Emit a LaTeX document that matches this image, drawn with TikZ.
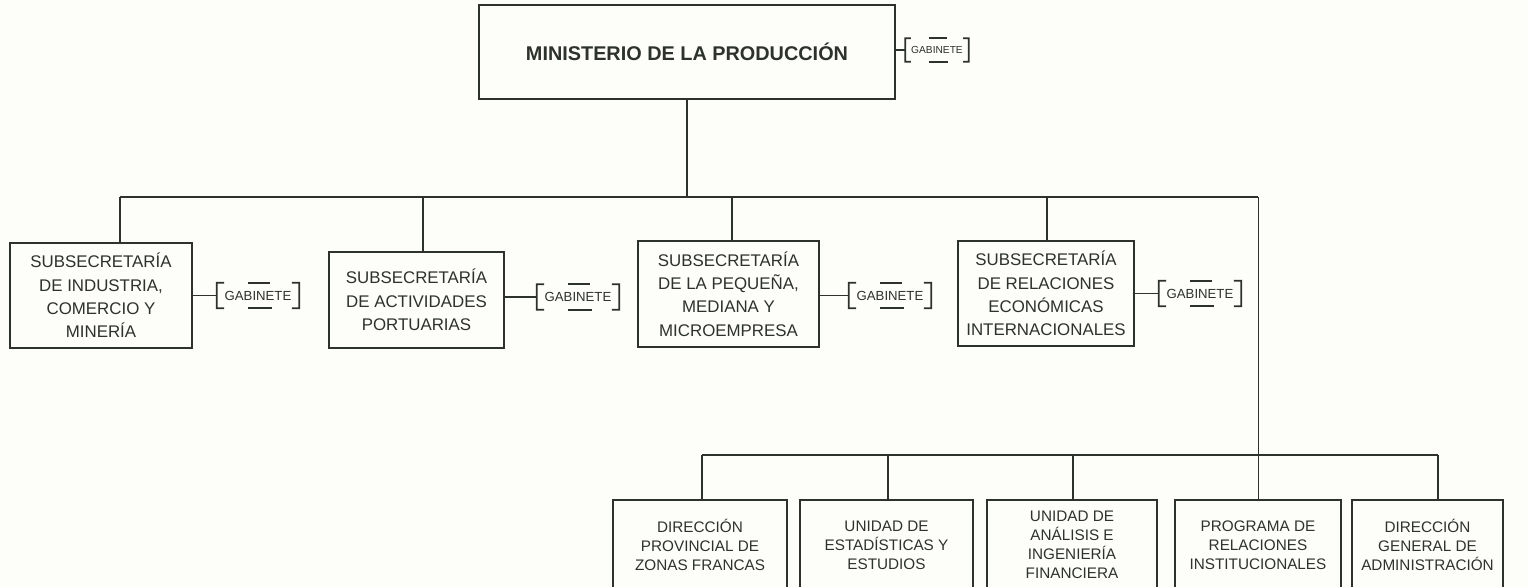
\documentclass[tikz,border=0pt]{standalone}
\usepackage{fontspec}
\setmainfont{Liberation Sans}
\usetikzlibrary{calc}
\definecolor{ink}{RGB}{45, 50, 45}
\definecolor{paper}{RGB}{253, 253, 250}

\begin{document}
\begin{tikzpicture}[x=0.02cm, y=-0.02cm,
    box/.style={rectangle, draw=ink, line width=1.1pt, align=center, text=ink, inner sep=1pt, font=\fontsize{9.6}{13.3}\selectfont},
    unit/.style={rectangle, draw=ink, line width=1.1pt, align=center, text=ink, inner sep=1pt, minimum height=1.8cm, font=\fontsize{8.7}{10.8}\selectfont},
    gab/.style={rectangle, inner sep=0pt, minimum width=1.64cm, minimum height=0.5cm, text=ink, font=\fontsize{7.5}{9}\selectfont},
    brk/.style={draw=ink, line width=1pt},
    conn/.style={draw=ink, line width=0.7pt}
]
\useasboundingbox (0,0) rectangle (1528,587);
\clip (0,0) rectangle (1528,587);
\fill[paper] (0,0) rectangle (1528,587);

% Ministry at top
\node[box, line width=0.9pt, minimum width=8.32cm, minimum height=1.88cm, font=\fontsize{11.3}{13}\selectfont\bfseries] (min) at (687,52) {MINISTERIO DE LA PRODUCCIÓN};
\node[gab, minimum width=1.26cm, minimum height=0.46cm, font=\fontsize{5.8}{7}\selectfont] (g0) at (937,50) {GABINETE};

% Subsecretarias
\node[box, minimum width=3.64cm, minimum height=2.1cm] (s1) at (101,295.5) {SUBSECRETARÍA\\DE INDUSTRIA,\\COMERCIO Y\\MINERÍA};
\node[box, minimum width=3.5cm, minimum height=1.92cm] (s2) at (416.5,300) {SUBSECRETARÍA\\DE ACTIVIDADES\\PORTUARIAS};
\node[box, minimum width=3.62cm, minimum height=2.12cm] (s3) at (728.5,294) {SUBSECRETARÍA\\DE LA PEQUEÑA,\\MEDIANA Y\\MICROEMPRESA};
\node[box, minimum width=3.52cm, minimum height=2.1cm] (s4) at (1046,293.5) {SUBSECRETARÍA\\DE RELACIONES\\ECONÓMICAS\\INTERNACIONALES};

% Gabinetes beside them
\node[gab] (g1) at (258,295.5) {GABINETE};
\node[gab] (g2) at (578,297) {GABINETE};
\node[gab] (g3) at (890,295.5) {GABINETE};
\node[gab] (g4) at (1200,293.5) {GABINETE};

% Units at the bottom
\node[unit, minimum width=3.48cm] (u1) at (700,545) {DIRECCIÓN\\PROVINCIAL DE\\ZONAS FRANCAS};
\node[unit, minimum width=3.46cm] (u2) at (886.5,545) {UNIDAD DE\\ESTADÍSTICAS Y\\ESTUDIOS};
\node[unit, minimum width=3.4cm] (u3) at (1072,545) {UNIDAD DE\\ANÁLISIS E\\INGENIERÍA\\FINANCIERA};
\node[unit, minimum width=3.32cm] (u4) at (1258,545) {PROGRAMA DE\\RELACIONES\\INSTITUCIONALES};
\node[unit, minimum width=3.02cm] (u5) at (1427.5,545) {DIRECCIÓN\\GENERAL DE\\ADMINISTRACIÓN};

% Bracket frames of the gabinetes
\foreach \g in {g0,g1,g2,g3,g4} {
  \draw[brk] ($(\g.north west)!0.09!(\g.north east)$) -- (\g.north west) -- (\g.south west) -- ($(\g.south west)!0.09!(\g.south east)$);
  \draw[brk] ($(\g.north east)!0.09!(\g.north west)$) -- (\g.north east) -- (\g.south east) -- ($(\g.south east)!0.09!(\g.south west)$);
  \draw[brk] ($(\g.north west)!0.38!(\g.north east)$) -- ($(\g.north west)!0.65!(\g.north east)$);
  \draw[brk] ($(\g.south west)!0.38!(\g.south east)$) -- ($(\g.south west)!0.67!(\g.south east)$);
}

% Upper bus
\coordinate (bus1) at (120,197);
\coordinate (bus2) at (423,197);
\coordinate (bus3) at (732,197);
\coordinate (bus4) at (1047,197);
\coordinate (bus5) at (1258,197);
\draw[conn] (min.south) -- (min.south |- bus1);
\draw[conn] (bus1) -- (bus5);
\foreach \i in {1,...,4}
  \draw[conn] (bus\i) -- (bus\i |- s\i.north);
\draw[conn, line width=0.45pt] (bus5) -- (bus5 |- u4.north);

% Lower bus
\coordinate (low1) at (702,455);
\coordinate (low2) at (888,455);
\coordinate (low3) at (1073,455);
\coordinate (low5) at (1438,455);
\draw[conn] (low1) -- (low5);
\foreach \i in {1,2,3,5}
  \draw[conn] (low\i) -- (low\i |- u\i.north);

% Gabinete links
\draw[conn] (min.east |- g0.west) -- (g0.west);
\foreach \i in {1,...,4}
  \draw[conn] (s\i.east |- g\i.west) -- (g\i.west);
\end{tikzpicture}
\end{document}
